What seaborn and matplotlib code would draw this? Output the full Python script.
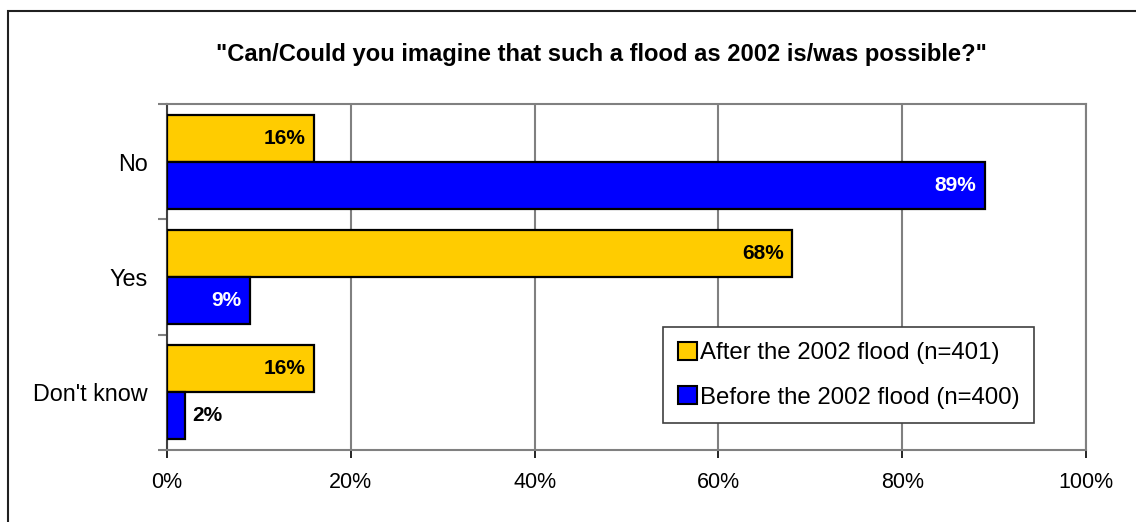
import matplotlib
matplotlib.use("Agg")
import matplotlib.pyplot as plt
from matplotlib.patches import Rectangle, Patch
from matplotlib.ticker import FixedLocator, PercentFormatter
import seaborn as sns
import pandas as pd

# Survey answers and shares (percent)
answers = ["No", "Yes", "Don't know"]
series = ["After the 2002 flood (n=401)", "Before the 2002 flood (n=400)"]
after_values = [16, 68, 16]
before_values = [89, 9, 2]
x_ticks = [0, 20, 40, 60, 80, 100]

colors = {series[0]: "#FFCC00", series[1]: "#0000FF"}
label_colors = {series[0]: "black", series[1]: "white"}

df = pd.DataFrame({
    "answer": answers * 2,
    "group": [series[0]] * 3 + [series[1]] * 3,
    "share": after_values + before_values,
})

sns.set_theme(style="white")
plt.rcParams["font.family"] = ["Liberation Sans", "DejaVu Sans"]
plt.rcParams["text.color"] = "black"
plt.rcParams["axes.labelcolor"] = "black"
plt.rcParams["xtick.color"] = "black"
plt.rcParams["ytick.color"] = "black"

fig = plt.figure(figsize=(11.36, 5.22), dpi=100)
ax = fig.add_axes([0.147, 0.138, 0.809, 0.663])

sns.barplot(data=df, x="share", y="answer", hue="group", order=answers,
            hue_order=series, palette=colors, saturation=1, orient="h", width=0.815,
            edgecolor="black", linewidth=1.6, ax=ax, legend=False, zorder=3)

ax.set_xlim(0, 100)
ax.set_ylim(2.5, -0.5)
ax.xaxis.set_major_locator(FixedLocator(x_ticks))
ax.xaxis.set_major_formatter(PercentFormatter(decimals=0))
ax.set_xlabel("")
ax.set_ylabel("")

# Category ticks sit between groups, labels at the group centers
ax.set_yticks(range(len(answers)))
ax.set_yticklabels(answers)
ax.set_yticks([-0.5, 0.5, 1.5, 2.5], minor=True)
ax.tick_params(axis="y", which="major", length=0, pad=14, labelsize=16.8, labelcolor="black")
ax.tick_params(axis="y", which="minor", left=True, length=6.5, width=1.5, color="#808080")
ax.tick_params(axis="x", which="major", bottom=True, length=6, width=1.2,
               color="black", pad=10, labelsize=15.5, labelcolor="black")

ax.grid(axis="x", color="#808080", linewidth=1.5, zorder=0)
ax.grid(axis="y", visible=False)
for side in ["top", "right", "bottom"]:
    ax.spines[side].set_color("#808080")
    ax.spines[side].set_linewidth(1.5)
ax.spines["left"].set_color("#404040")
ax.spines["left"].set_linewidth(1.5)

# Value labels at bar ends
for container, name in zip(ax.containers, series):
    for bar in container:
        w = bar.get_width()
        yc = bar.get_y() + bar.get_height() / 2
        if w < 5:
            ax.annotate(f"{w:.0f}%", (w, yc), xytext=(5, 0), textcoords="offset points",
                        ha="left", va="center", fontsize=15, fontweight="bold",
                        color="black", zorder=4)
        else:
            ax.annotate(f"{w:.0f}%", (w, yc), xytext=(-6, 0), textcoords="offset points",
                        ha="right", va="center", fontsize=15, fontweight="bold",
                        color=label_colors[name], zorder=4)

handles = [Patch(facecolor=colors[s], edgecolor="black", linewidth=1.5) for s in series]
leg = ax.legend(handles, series, loc="lower left", bbox_to_anchor=(0.540, 0.078),
                frameon=True, fancybox=False, framealpha=1, edgecolor="#404040",
                fontsize=17.3, handlelength=0.8, handleheight=0.8, handletextpad=0.12,
                labelspacing=0.9, borderpad=0.6, borderaxespad=0)
leg.get_frame().set_linewidth(1.2)
leg.set_zorder(5)
for t in leg.get_texts():
    t.set_color("black")

fig.text(0.529, 0.896, '"Can/Could you imagine that such a flood as 2002 is/was possible?"',
         ha="center", va="center", fontsize=17.1, fontweight="bold")

# Outer chart frame
fig.add_artist(Rectangle((8 / 1136, -0.1), 1.2, 1.0 - 10.5 / 522 + 0.1, fill=False,
                         edgecolor="#202020", linewidth=1.5, transform=fig.transFigure))

fig.savefig("out.png", dpi=100)
